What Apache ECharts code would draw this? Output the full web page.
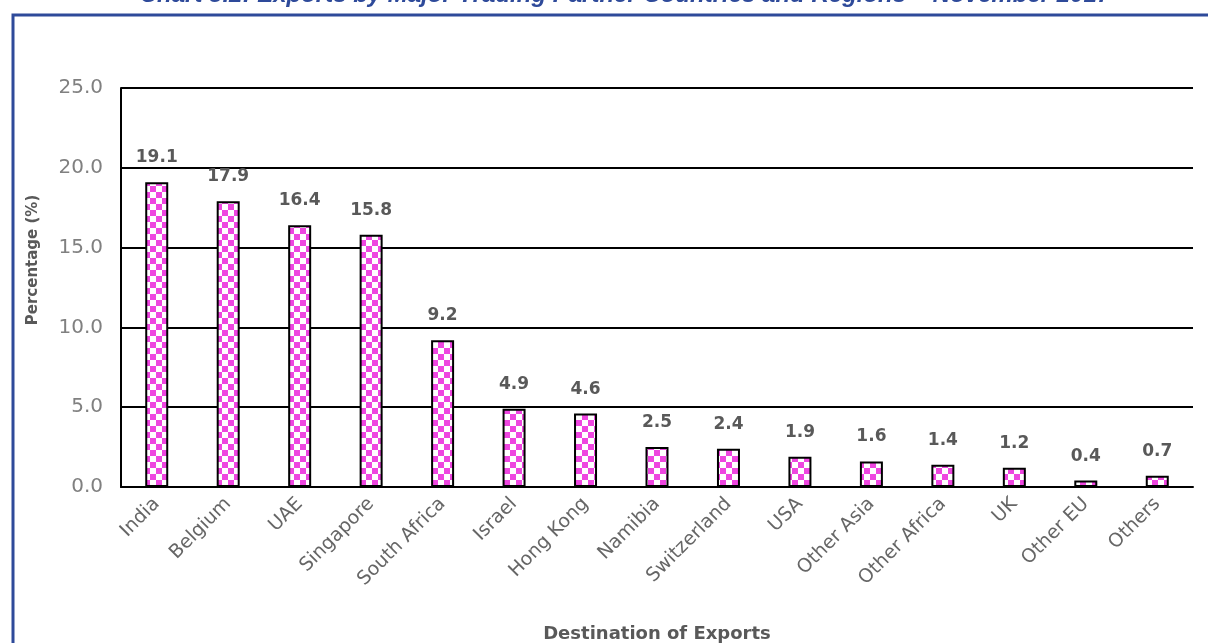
<!DOCTYPE html>
<html>
<head>
<meta charset="utf-8">
<script src="https://cdn.jsdelivr.net/npm/echarts@6/dist/echarts.min.js"></script>
<style>html,body{margin:0;padding:0;background:#fff}#c{width:1208px;height:643px}</style>
</head>
<body>
<div id="c"></div>
<script>
const categories = ['India','Belgium','UAE','Singapore','South Africa','Israel','Hong Kong','Namibia','Switzerland','USA','Other Asia','Other Africa','UK','Other EU','Others'];
const values = [19.1,17.9,16.4,15.8,9.2,4.9,4.6,2.5,2.4,1.9,1.6,1.4,1.2,0.4,0.7];
const yTicks = [0,5,10,15,20,25];
const titleText = 'Chart 5.2: Exports by Major Trading Partner Countries and Regions \u2013 November 2017';

const pc = document.createElement('canvas');
pc.width = 12; pc.height = 12;
const ctx = pc.getContext('2d');
ctx.fillStyle = '#ffffff'; ctx.fillRect(0,0,12,12);
ctx.fillStyle = '#EE46E0';
ctx.fillRect(0,0,6,6); ctx.fillRect(6,6,6,6);

const chart = echarts.init(document.getElementById('c'));
const font = '"DejaVu Sans", "Noto Sans", sans-serif';
chart.setOption({
  animation: false,
  graphic: [
    {type:'rect', shape:{x:13,y:15,width:1300,height:700}, style:{fill:'none', stroke:'#2E4A9A', lineWidth:3}},
    {type:'text', x:625, y:7, style:{text:titleText, textAlign:'center', textVerticalAlign:'bottom', font:'italic bold 24px "Liberation Sans", Arial, sans-serif', fill:'#2E4A9A'}},
    {type:'text', x:33, y:260, rotation:Math.PI/2, style:{text:'Percentage (%)', textAlign:'center', textVerticalAlign:'middle', font:'bold 15px "DejaVu Sans", sans-serif', fill:'#595959'}}
  ],
  grid: {left:121, right:15, top:88, bottom:156, outerBoundsMode:'none', containLabel:false},
  xAxis: {
    type:'category', data:categories,
    axisLine:{lineStyle:{color:'#000', width:2}},
    axisTick:{show:false},
    axisLabel:{rotate:45, color:'#666666', fontSize:19, fontFamily:font, margin:14, interval:0},
    name:'Destination of Exports', nameLocation:'middle', nameGap:138,
    nameTextStyle:{color:'#595959', fontSize:18, fontWeight:'bold', fontFamily:font}
  },
  yAxis: {
    type:'value', min:0, max:25, interval:5,
    axisLine:{show:true, lineStyle:{color:'#000', width:2}},
    axisTick:{show:false},
    splitLine:{lineStyle:{color:'#000', width:2}},
    axisLabel:{color:'#808080', fontSize:20, fontFamily:font, margin:18, formatter:v=>v.toFixed(1)}
  },
  series: [{
    type:'bar', data:values, barWidth:23,
    itemStyle:{color:{image:pc, repeat:'repeat'}, borderColor:'#000', borderWidth:2},
    label:{show:true, position:'top', distance:16, color:'#595959', fontSize:17, fontWeight:'bold', fontFamily:font, formatter:p=>p.value.toFixed(1)}
  }]
});
</script>
</body>
</html>
